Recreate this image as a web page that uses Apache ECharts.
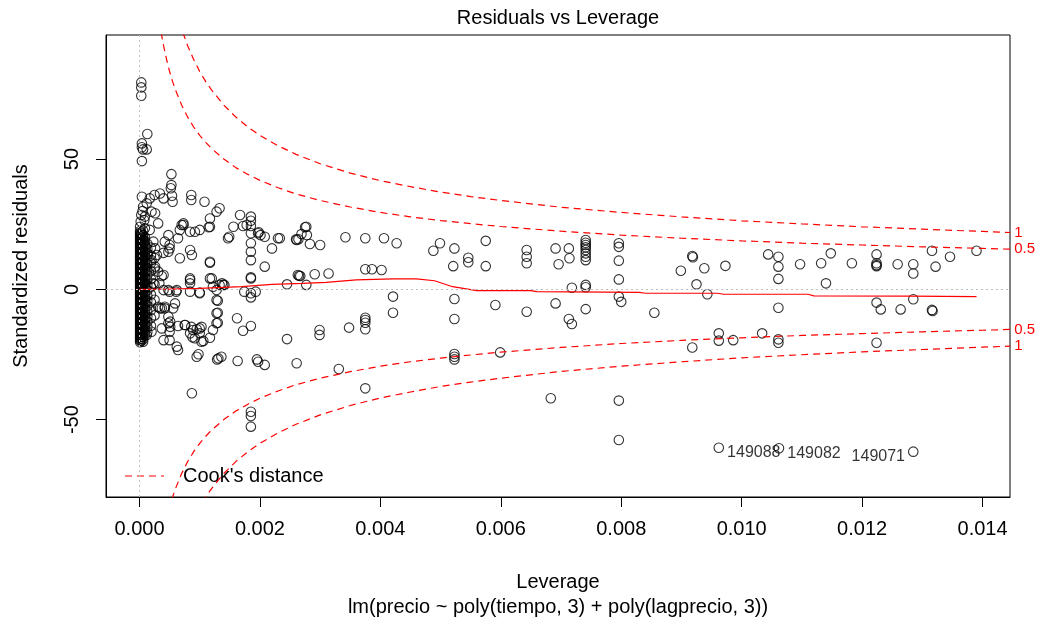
<!DOCTYPE html>
<html><head><meta charset="utf-8">
<script src="https://cdn.jsdelivr.net/npm/echarts@6/dist/echarts.min.js"></script>
<style>html,body{margin:0;padding:0;background:#fff}#c{width:1040px;height:619px}</style>
</head><body><div id="c"></div>
<script>
const FONT = 'Liberation Sans, Arial, sans-serif';
const xTicks = [0, 0.002, 0.004, 0.006, 0.008, 0.010, 0.012, 0.014];
const yTicks = [-50, 0, 50];

// scattered points [leverage, standardized residual]
const scatterPts = [
[0.00003,79.4],[0.00003,77.5],[0.00003,74.3],[0.00013,59.6],[0.00004,56],[0.00004,54.5],[0.00012,53.7],[0.00006,53.7],[0.00004,49.2],
[0.00053,44.2],[0.00052,38.8],[0.00054,35.9],[0.00055,33.6],
[0.00004,35.5],[0.00006,31.7],[0.00012,33],[0.00017,34.9],[0.00025,36.2],[0.00034,36.8],[0.0004,34.9],[0.0002,29.8],[0.00026,29.2],
[0.00009,27.9],[0.00031,25.3],[0.00017,22.8],[0.00009,23.4],[0.00053,40],[0.00086,36.2],[0.00086,34.3],[0.00108,33.6],[0.00048,20.8],
[0.00042,18.3],[0.0005,15.7],[0.00048,14.4],[0.00064,19.6],[0.0007,24.7],[0.00073,25.3],[0.00084,22.1],[0.00092,22.1],[0.001,22.8],
[0.00117,27.2],[0.00128,29.8],[0.00133,31.1],[0.00115,23.8],[0.00084,15.1],[0.00067,11.9],[0.00117,10.6],[0.00147,19.6],[0.00023,18.3],
[0.00026,15.7],[0.00029,13.2],[0.0002,11.2],[0.00026,8.7],[0.00031,6.8],[0.00037,5.1],[0.00084,4.2],[0.00117,4.2],[0.00133,1.7],[0.00141,1.7],
[0.00167,28.5],[0.00185,27.9],[0.00185,26.3],[0.00185,24.3],[0.00185,21.5],[0.00185,17.7],[0.00185,14.4],[0.00185,11.2],[0.00185,4.6],
[0.00198,21.9],[0.00208,20.2],[0.0023,19.6],[0.00261,18.9],[0.0022,15.7],[0.00208,8.7],[0.00156,24],[0.00149,20.2],[0.00178,24.7],
[0.00117,24],[0.00073,24.7],[0.00067,22.8],[0.0005,17],[0.0004,14],[0.00087,13.2],
[0.00172,24.3],[0.00197,21.5],[0.00201,20.8],[0.00117,10.2],[0.00277,24],[0.00269,21.2],[0.00264,19.2],[0.00278,20.8],[0.00283,17.4],
[0.00267,5.1],[0.00291,5.8],[0.0012,4.2],[0.00137,2.3],[0.00245,1.9],[0.00277,1.7],[0.00185,4.2],
[0.00233,19.6],[0.0026,19.2],[0.00275,23.8],[0.003,17],[0.00342,20],[0.00375,19.6],[0.00406,19.6],[0.00427,17.7],[0.00488,14.8],
[0.00499,17.7],[0.00523,15.7],[0.00546,12.1],[0.00546,10.4],[0.00521,8.9],[0.00575,18.6],[0.00575,8.9],[0.00643,15.1],[0.00643,12.5],
[0.00643,10],[0.00375,7.7],[0.00386,7.7],[0.00402,7.4],[0.00314,6.1],[0.00265,5.2],[0.00421,-2.8],[0.00421,-9],[0.00523,-3.7],
[0.00523,-11.4],[0.00591,-6],[0.00643,-8.6],[0.00375,-11.8],[0.00375,-12.8],[0.00375,-15.3],[0.00375,-10.9],[0.00348,-14.7],
[0.00299,-15.6],[0.00299,-17.5],[0.00245,-19.1],[0.00261,-28.4],[0.00331,-30.6],[0.00523,-24.8],[0.00523,-25.9],[0.00523,-26.9],
[0.00599,-24.2],[0.00375,-38],
[0.00691,15.7],[0.00713,15.7],[0.00714,11.9],[0.00696,9.6],[0.00741,18.9],[0.00741,17.9],[0.00741,17],[0.00741,16.1],[0.00741,15.1],
[0.00741,13.8],[0.00741,12.5],[0.00741,11.2],[0.00796,17.7],[0.00796,16.3],[0.00796,11],[0.00796,3.8],[0.00718,0.6],[0.00741,1.7],
[0.00741,0.8],[0.00691,-5.4],[0.00713,-11.4],[0.00718,-13.3],[0.00741,-7.6],[0.00796,-2.8],[0.008,-4.8],[0.00855,-9],[0.00899,7.1],
[0.00918,12.8],[0.00919,12.3],[0.00938,8.1],[0.00925,1.9],[0.00943,-1.9],[0.00973,9],[0.01044,13.4],[0.00962,-16.9],[0.00962,-19.7],
[0.00986,-19.5],[0.01034,-16.9],[0.00918,-22.3],[0.00683,-41.8],[0.00796,-42.7],[0.00796,-57.8],
[0.01061,12.5],[0.01061,8.7],[0.01061,4],[0.01061,-19.2],[0.01061,-20.5],[0.01061,-7.1],[0.01097,9.6],[0.01132,10],[0.01148,13.8],
[0.0114,2.3],[0.01183,10],[0.01224,13.4],[0.01224,10],[0.01224,9.3],[0.01224,8.9],[0.01224,-5.1],[0.01231,-7.7],[0.01224,-20.5],
[0.01259,9.6],[0.01264,-7.7],[0.01285,9.6],[0.01285,6.1],[0.01285,-3.8],[0.01316,14.8],[0.01322,8.7],[0.01316,-7.9],[0.01317,-8.3],
[0.01346,12.5],[0.0139,14.8],
[0.00087,-39.9],[0.00185,-47],[0.00185,-48.6],[0.00185,-52.7],[0.00163,-27.5],[0.00195,-26.9],[0.00197,-27.8],[0.00208,-29],
[0.00131,-26.5],[0.00136,-25.9],[0.00129,-26.9],[0.00095,-25.9],[0.00098,-24.9],[0.00064,-23.3],[0.00062,-22],[0.00162,-11.1],
[0.00172,-15.9],[0.00185,-14.1],[0.0013,-4.4],[0.0013,-9],[0.0013,-12.8],[0.00122,-15.6],[0.00117,-18.6],[0.00106,-19.8],[0.001,-16.9],
[0.00095,-15.3],[0.00088,-18.4],[0.00084,-16.9],[0.00076,-13.7],[0.00064,-14.1],[0.00051,-14.4],[0.0005,-16.3],[0.0005,-19.5],
[0.0004,-19.5],[0.00048,-13],[0.00042,-7.3],[0.00059,-5.4],[0.0005,-0.9],[0.00061,-0.9],[0.00084,-0.9],[0.00084,3.6],[0.00084,2.3],
[0.001,-1.5],[0.00122,1],[0.00139,1.7],[0.00174,-0.9],[0.00185,-1.5],[0.00193,-0.9],[0.00185,-3.1],[0.00263,5.5],[0.00031,-6.7],
[0.00037,-7.3],[0.00023,2.3],[0.00033,2.3],[0.0004,5.5],[0.00006,-15.6],[0.00012,-17.5],[0.0002,-16.3],[0.00006,-20.1],
[0.00034,-7.3],[0.00042,-6.7],[0.00048,-10.5],[0.00051,-12.4],[0.00037,-15],[0.00075,-13.7],[0.00086,-14.4],[0.00089,-15.6],
[0.001,-15],[0.00103,-14.4],[0.00092,-18.8],[0.00103,-20.1],[0.00128,-13],[0.00128,-9.2],[0.00128,-4.1],[0.00056,-7.3],
[0.0004,-0.3],[0.00048,-0.3],[0.00062,-0.3],[0.001,-1.2],[0.00128,-0.3],
[0.00002,26],[0.00003,28.5],[0.00001,24],[0.00005,30],[0.00008,26.5],[0.00006,22.5]
];

// dense cluster near zero leverage: [leverage, residuals in that column]
const clusterCols = [
[0.00001,[-20.3,-19.6,-18.9,-18.2,-17.5,-16.8,-16.1,-15.4,-14.7,-14,-13.3,-12.6,-11.9,-11.2,-10.5,-9.8,-9.1,-8.4,-7.7,-7,-6.3,-5.6,-4.9,-4.2,-3.5,-2.8,-2.1,-1.4,-0.7,0,0.7,1.4,2.1,2.8,3.5,4.2,4.9,5.6,6.3,7,7.7,8.4,9.1,9.8,10.5,11.2,11.9,12.6,13.3,14,14.7,15.4,16.1,16.8,17.5,18.2,18.9,19.6,20.3,21,21.7,22.4]],
[0.00003,[-19.8,-19,-18.2,-17.4,-16.6,-15.8,-15,-14.2,-13.4,-12.6,-11.8,-11,-10.2,-9.4,-8.6,-7.8,-7,-6.2,-5.4,-4.6,-3.8,-3,-2.2,-1.4,-0.6,0.2,1,1.8,2.6,3.4,4.2,5,5.8,6.6,7.4,8.2,9,9.8,10.6,11.4,12.2,13,13.8,14.6,15.4,16.2,17,17.8,18.6,19.4,20.2,21,21.8]],
[0.00006,[-19.2,-18.2,-17.2,-16.2,-15.2,-14.2,-13.2,-12.2,-11.2,-10.2,-9.2,-8.2,-7.2,-6.2,-5.2,-4.2,-3.2,-2.2,-1.2,-0.2,0.8,1.8,2.8,3.8,4.8,5.8,6.8,7.8,8.8,9.8,10.8,11.8,12.8,13.8,14.8,15.8,16.8,17.8,18.8,19.8,20.8]],
[0.00009,[-17.5,-16,-14.5,-13,-11.5,-10,-8.5,-7,-5.5,-4,-2.5,-1,0.5,2,3.5,5,6.5,8,9.5,11,12.5,14,15.5,17,18.5,20]],
[0.00013,[-16.5,-14.5,-12.5,-10.5,-8.5,-6.5,-4.5,-2.5,-0.5,1.5,3.5,5.5,7.5,9.5,11.5,13.5,15.5,17.5]],
[0.00019,[-14,-11,-8,-5,-2,1,4,7,10,13,16]],
[0.00025,[-10,-4,2,8,12]]
];

const idNames = ['149088','149082','149071'];
const idLev = [0.00962, 0.01062, 0.01285];
const idRes = [-60.8, -61.0, -62.3];

// red smoother
const smoothLev = [0,0.0005,0.001,0.0017,0.0022,0.0027,0.0031,0.0036,0.0042,0.0046,0.0049,0.0052,0.0056,0.0065,0.0066,0.0083,0.0084,0.0096,0.0097,0.0111,0.0112,0.0128,0.0139];
const smoothRes = [0,0.1,0.4,1,1.9,2.3,2.7,3.6,4,4,3.3,1,-0.5,-0.5,-0.9,-1.2,-1.5,-1.5,-1.9,-1.9,-2.5,-2.6,-2.8];

// Cook's distance contours
const cookLev05 = [0.00036,0.0004,0.00045,0.0005,0.00055,0.0006,0.0007,0.0008,0.0009,0.001,0.0011,0.0012,0.0014,0.0016,0.0018,0.002,0.0023,0.0026,0.003,0.0035,0.004,0.0045,0.005,0.0055,0.006,0.007,0.008,0.009,0.010,0.011,0.012,0.013,0.014,0.01446];
const cookRes05 = [98.6,93.5,88.2,83.6,79.7,76.4,70.7,66.1,62.3,59.1,56.4,54.0,50.0,46.7,44.1,41.8,39.0,36.6,34.1,31.6,29.5,27.8,26.4,25.2,24.1,22.3,20.8,19.6,18.6,17.7,17.0,16.3,15.7,15.4];
const cookLev1 = [0.00072,0.0008,0.0009,0.001,0.0011,0.0012,0.0014,0.0016,0.0018,0.002,0.0023,0.0026,0.003,0.0035,0.004,0.0045,0.005,0.0055,0.006,0.007,0.008,0.009,0.010,0.011,0.012,0.013,0.014,0.01446];
const cookRes1 = [98.6,93.5,88.2,83.6,79.7,76.4,70.7,66.1,62.3,59.1,55.1,51.8,48.2,44.6,41.7,39.4,37.3,35.6,34.1,31.5,29.5,27.8,26.3,25.1,24.0,23.1,22.2,21.8];

const allPts = scatterPts.slice();
clusterCols.forEach(c => c[1].forEach(r => allPts.push([c[0], r])));

const RED = '#ff0000';
function cookSeries(lev, res, sign, lab) {
  return {
    type: 'line', data: lev.map((h, i) => [h, sign * res[i]]), symbol: 'none', clip: true, silent: true,
    lineStyle: {color: RED, width: 1.2, type: [7, 5]}, z: 4,
    endLabel: {show: true, formatter: lab, color: RED, fontSize: 15, fontFamily: FONT, distance: 4}
  };
}

const chart = echarts.init(document.getElementById('c'), null, {renderer: 'canvas'});
chart.setOption({
  animation: false,
  backgroundColor: '#fff',
  grid: {left: 106, right: 30, top: 35, bottom: 122, show: true, borderColor: '#000', borderWidth: 1, backgroundColor: 'transparent'},
  xAxis: {
    type: 'value', position: 'bottom', min: -0.000556, max: 0.014456,
    axisLine: {show: true, onZero: false, lineStyle: {color: '#000', width: 1}}, splitLine: {show: false},
    axisTick: {show: true, inside: false, length: 10, lineStyle: {color: '#000', width: 1}, customValues: xTicks},
    axisLabel: {customValues: xTicks, formatter: v => v.toFixed(3), color: '#000', fontSize: 20, fontFamily: FONT, margin: 22}
  },
  yAxis: {
    type: 'value', position: 'left', min: -79.7, max: 97.6,
    axisLine: {show: true, onZero: false, lineStyle: {color: '#000', width: 1}}, splitLine: {show: false},
    axisTick: {show: true, inside: false, length: 10, lineStyle: {color: '#000', width: 1}, customValues: yTicks},
    axisLabel: {customValues: yTicks, formatter: v => String(v), rotate: 90, color: '#000', fontSize: 20, fontFamily: FONT, margin: 24}
  },
  series: [
    {
      type: 'scatter', data: allPts, symbol: 'circle', symbolSize: 9.5, silent: true,
      itemStyle: {color: 'rgba(0,0,0,0)', borderColor: '#000', borderWidth: 1.1},
      markLine: {
        silent: true, symbol: 'none', label: {show: false},
        lineStyle: {color: '#bebebe', type: [2, 3], width: 1},
        data: [{xAxis: 0}, {yAxis: 0}]
      },
      z: 2
    },
    {
      type: 'scatter', symbol: 'circle', symbolSize: 9.5, silent: true,
      itemStyle: {color: 'rgba(0,0,0,0)', borderColor: '#000', borderWidth: 1.1},
      data: idNames.map((n, i) => ({
        value: [idLev[i], idRes[i]], name: n,
        label: {show: true, formatter: n, position: i === 2 ? 'left' : 'right', distance: 3, offset: [0, 5],
          color: '#000', fontSize: 16, fontFamily: FONT}
      })),
      z: 3
    },
    {
      type: 'line', data: smoothLev.map((h, i) => [h, smoothRes[i]]), symbol: 'none', silent: true,
      lineStyle: {color: RED, width: 1.2}, z: 4
    },
    cookSeries(cookLev05, cookRes05, 1, '0.5'),
    cookSeries(cookLev1, cookRes1, 1, '1'),
    cookSeries(cookLev05, cookRes05, -1, '0.5'),
    cookSeries(cookLev1, cookRes1, -1, '1')
  ],
  graphic: [
    {type: 'text', x: 558, y: 18, style: {text: 'Residuals vs Leverage', fontSize: 20, fontFamily: FONT, fill: '#000', align: 'center', verticalAlign: 'middle'}},
    {type: 'text', x: 558, y: 582, style: {text: 'Leverage', fontSize: 20, fontFamily: FONT, fill: '#000', align: 'center', verticalAlign: 'middle'}},
    {type: 'text', x: 558, y: 607, style: {text: 'lm(precio ~ poly(tiempo, 3) + poly(lagprecio, 3))', fontSize: 20, fontFamily: FONT, fill: '#000', align: 'center', verticalAlign: 'middle'}},
    {type: 'text', x: 21, y: 266, rotation: Math.PI / 2, style: {text: 'Standardized residuals', fontSize: 20, fontFamily: FONT, fill: '#000', align: 'center', verticalAlign: 'middle'}},
    {type: 'line', shape: {x1: 125, y1: 476, x2: 164, y2: 476}, style: {stroke: RED, lineWidth: 1.2, lineDash: [7, 5]}},
    {type: 'text', x: 183, y: 476, style: {text: "Cook's distance", fontSize: 20, fontFamily: FONT, fill: '#000', align: 'left', verticalAlign: 'middle'}}
  ]
});
</script></body></html>
